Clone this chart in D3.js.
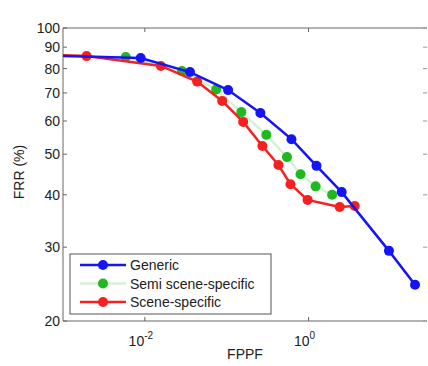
<!DOCTYPE html>
<html>
<head>
<meta charset="utf-8">
<script src="https://cdn.jsdelivr.net/npm/d3@7"></script>
<style>
  body { margin: 0; background: #fff; }
  text { font-family: "Liberation Sans", Arial, sans-serif; }
</style>
</head>
<body>
<svg width="428" height="366"></svg>
<script>
// values (FPPF, FRR %)
var genericX = [0.0005, 0.0089, 0.0356, 0.104, 0.258, 0.618, 1.25, 2.54, 9.6, 20.0];
var genericY = [86, 84.8, 78.5, 71.1, 62.7, 54.3, 46.9, 40.6, 29.4, 24.4];

var semiX = [0.0005, 0.00585, 0.0284, 0.0743, 0.151, 0.305, 0.545, 0.798, 1.22, 1.94];
var semiY = [86, 85.3, 79.0, 71.3, 63.0, 55.6, 49.2, 44.8, 41.9, 40.0];

var sceneX = [0.0005, 0.00194, 0.0157, 0.0435, 0.0881, 0.159, 0.273, 0.429, 0.601, 0.973, 2.40, 3.67];
var sceneY = [86.5, 85.7, 81.2, 74.5, 67.0, 59.7, 52.3, 47.1, 42.4, 38.9, 37.4, 37.6];

var yTicks = [20, 30, 40, 50, 60, 70, 80, 90, 100];
var xTicks = [0.01, 1];
var xTickExp = ["-2", "0"];

var legendNames = ["Generic", "Semi scene-specific", "Scene-specific"];

// plot box (note: "top" is taken by window.top, so use pTop etc)
var pLeft = 63, pTop = 28, pRight = 427, pBottom = 321;

var svg = d3.select("svg");

var x = d3.scaleLog().domain([0.001, 28]).range([pLeft, pRight]);
var y = d3.scaleLog().domain([20, 100]).range([pBottom, pTop]);

svg.append("clipPath").attr("id", "clip")
    .append("rect")
    .attr("x", pLeft).attr("y", pTop)
    .attr("width", pRight - pLeft).attr("height", pBottom - pTop);

// frame
svg.append("line").attr("x1", pLeft).attr("x2", pRight).attr("y1", pTop).attr("y2", pTop)
    .attr("stroke", "#666").attr("stroke-width", 1);
svg.append("line").attr("x1", pLeft).attr("x2", pRight).attr("y1", pBottom).attr("y2", pBottom)
    .attr("stroke", "#666").attr("stroke-width", 1);
svg.append("line").attr("x1", pLeft).attr("x2", pLeft).attr("y1", pTop).attr("y2", pBottom)
    .attr("stroke", "#666").attr("stroke-width", 1);

// y ticks + labels
var yAxis = svg.append("g");
yTicks.forEach(function(t) {
    yAxis.append("line")
        .attr("x1", pLeft).attr("x2", pLeft + 4)
        .attr("y1", y(t)).attr("y2", y(t))
        .attr("stroke", "#666");
    yAxis.append("line")
        .attr("x1", pRight - 4).attr("x2", pRight)
        .attr("y1", y(t)).attr("y2", y(t))
        .attr("stroke", "#999");
    yAxis.append("text")
        .attr("x", pLeft - 3).attr("y", y(t) + 5)
        .attr("text-anchor", "end")
        .attr("font-size", 14)
        .attr("fill", "#222")
        .text(t);
});

// x ticks + labels
xTicks.forEach(function(t, i) {
    svg.append("line")
        .attr("x1", x(t)).attr("x2", x(t))
        .attr("y1", pBottom).attr("y2", pBottom - 4)
        .attr("stroke", "#666");
    svg.append("line")
        .attr("x1", x(t)).attr("x2", x(t))
        .attr("y1", pTop).attr("y2", pTop + 4)
        .attr("stroke", "#666");
    var tx = svg.append("text")
        .attr("x", x(t) - 4).attr("y", pBottom + 25)
        .attr("text-anchor", "middle")
        .attr("font-size", 14)
        .attr("fill", "#222");
    tx.append("tspan").text("10");
    tx.append("tspan").attr("dy", -7).attr("font-size", 10).text(xTickExp[i]);
});

svg.append("text")
    .attr("x", (pLeft + pRight) / 2).attr("y", 359)
    .attr("text-anchor", "middle")
    .attr("font-size", 14)
    .attr("fill", "#222")
    .text("FPPF");

svg.append("text")
    .attr("transform", "translate(24," + 172 + ") rotate(-90)")
    .attr("text-anchor", "middle")
    .attr("font-size", 14)
    .attr("fill", "#222")
    .text("FRR (%)");

var series = [
    {xs: genericX, ys: genericY, line: "#1414f5", dot: "#1414f5"},
    {xs: semiX, ys: semiY, line: "#d4f2d4", dot: "#1fb81f"},
    {xs: sceneX, ys: sceneY, line: "#f52020", dot: "#f52020"}
];

var plot = svg.append("g").attr("clip-path", "url(#clip)");
var lineGen = d3.line().x(function(d) { return x(d[0]); }).y(function(d) { return y(d[1]); });

// draw semi first so it sits underneath
[1, 2, 0].forEach(function(k) {
    var s = series[k];
    var pts = s.xs.map(function(v, i) { return [v, s.ys[i]]; });
    plot.append("path")
        .datum(pts)
        .attr("d", lineGen)
        .attr("fill", "none")
        .attr("stroke", s.line)
        .attr("stroke-width", 2.5);
    plot.selectAll(null)
        .data(pts)
        .enter()
        .append("circle")
        .attr("cx", function(d) { return x(d[0]); })
        .attr("cy", function(d) { return y(d[1]); })
        .attr("r", 5)
        .attr("fill", s.dot);
});

// legend
var lg = svg.append("g");
lg.append("rect")
    .attr("x", 70).attr("y", 254)
    .attr("width", 201).attr("height", 60)
    .attr("fill", "#fff")
    .attr("stroke", "#555");
legendNames.forEach(function(name, i) {
    var ly = 265 + i * 18.5;
    var s = series[i];
    lg.append("line")
        .attr("x1", 80).attr("x2", 126)
        .attr("y1", ly).attr("y2", ly)
        .attr("stroke", s.line).attr("stroke-width", 2.5);
    lg.append("circle")
        .attr("cx", 103).attr("cy", ly).attr("r", 5).attr("fill", s.dot);
    lg.append("text")
        .attr("x", 130).attr("y", ly + 5)
        .attr("font-size", 14)
        .attr("fill", "#222")
        .text(name);
});
</script>
</body>
</html>
